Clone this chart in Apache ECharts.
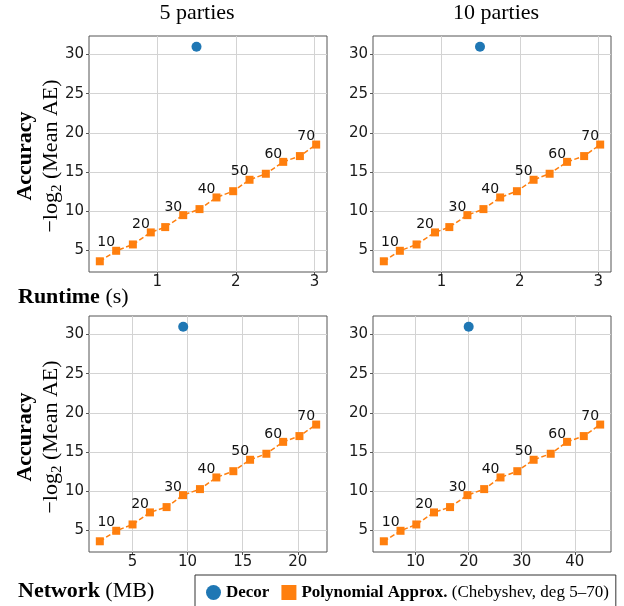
<!DOCTYPE html>
<html><head><meta charset="utf-8">
<script src="https://cdn.jsdelivr.net/npm/echarts@6/dist/echarts.min.js"></script>
<style>html,body{margin:0;padding:0;background:#fff}#c{width:624px;height:606px}</style>
</head><body><div id="c"></div>
<script>
const degrees = [5,10,15,20,25,30,35,40,45,50,55,60,65,70];
const polyAccuracy = [3.57,4.91,5.72,7.26,7.94,9.47,10.24,11.73,12.53,13.99,14.76,16.28,17.02,18.49];
const polyRuntime5 = [0.271,0.479,0.691,0.919,1.102,1.331,1.538,1.754,1.966,2.174,2.381,2.602,2.814,3.021];
const polyRuntime10 = [0.261,0.466,0.679,0.915,1.098,1.329,1.534,1.748,1.962,2.175,2.380,2.603,2.821,3.026];
const polyNetwork5 = [2.03,3.52,5.0,6.58,8.09,9.58,11.12,12.61,14.15,15.67,17.15,18.67,20.15,21.67];
const polyNetwork10 = [4.01,7.16,10.13,13.47,16.49,19.77,22.92,26.0,29.16,32.24,35.46,38.54,41.69,44.78];
const decorAccuracy = [31.0];
const decorRuntime5 = [1.50];
const decorRuntime10 = [1.49];
const decorNetwork5 = [9.6];
const decorNetwork10 = [20.0];
const yTicks = [5,10,15,20,25,30];
const runtimeTicks = [1,2,3];
const network5Ticks = [5,10,15,20];
const network10Ticks = [10,20,30,40];
const panelTitles = ['5 parties','10 parties'];
const seriesNames = ['Decor','Polynomial Approx.'];

const panels = [
  {poly: polyRuntime5, decor: decorRuntime5, ticks: runtimeTicks, left: 89, top: 36},
  {poly: polyRuntime10, decor: decorRuntime10, ticks: runtimeTicks, left: 373, top: 36},
  {poly: polyNetwork5, decor: decorNetwork5, ticks: network5Ticks, left: 89, top: 316},
  {poly: polyNetwork10, decor: decorNetwork10, ticks: network10Ticks, left: 373, top: 316}
];
function padRange(arr){
  const mn = Math.min(...arr), mx = Math.max(...arr), s = mx - mn;
  return [mn - 0.05*s, mx + 0.05*s];
}
const yr = padRange(polyAccuracy.concat(decorAccuracy));
const SERIF = '"Liberation Serif", "DejaVu Serif", serif';
const SANS = '"DejaVu Sans", sans-serif';
const BLUE = '#1f77b4', ORANGE = '#ff7f0e';

const grid = [], xAxis = [], yAxis = [], series = [];
panels.forEach((p, i) => {
  grid.push({left: p.left, top: p.top, width: 238, height: 236, show: true,
    borderColor: '#555', borderWidth: 1, backgroundColor: 'transparent', containLabel: false});
  const xr = padRange(p.poly.concat(p.decor));
  const axCommon = {
    axisLine: {show: false},
    axisTick: {show: true, length: 3, lineStyle: {color: '#555', width: 1}},
    axisLabel: {color: '#1a1a1a', fontSize: 15, fontFamily: SANS},
    splitLine: {show: true, lineStyle: {color: '#d3d3d3', width: 1}}
  };
  xAxis.push({type: 'value', gridIndex: i, min: xr[0], max: xr[1],
    axisLine: axCommon.axisLine,
    axisTick: Object.assign({}, axCommon.axisTick, {customValues: p.ticks}),
    axisLabel: Object.assign({}, axCommon.axisLabel, {customValues: p.ticks, margin: 3}),
    splitLine: axCommon.splitLine});
  yAxis.push({type: 'value', gridIndex: i, min: yr[0], max: yr[1],
    axisLine: axCommon.axisLine,
    axisTick: Object.assign({}, axCommon.axisTick, {customValues: yTicks}),
    axisLabel: Object.assign({}, axCommon.axisLabel, {customValues: yTicks, margin: 5}),
    splitLine: axCommon.splitLine});
  series.push({
    name: seriesNames[1], type: 'line', xAxisIndex: i, yAxisIndex: i,
    data: p.poly.map((x, k) => [x, polyAccuracy[k]]),
    symbol: 'rect', symbolSize: 8, showSymbol: true,
    itemStyle: {color: ORANGE, opacity: 1},
    lineStyle: {color: ORANGE, width: 1.5, type: [5, 2.5]},
    label: {show: true, position: 'left', distance: 0, offset: [3, -8],
      fontSize: 14, fontFamily: SANS, color: '#111',
      formatter: (q) => degrees[q.dataIndex] % 10 === 0 ? String(degrees[q.dataIndex]) : ''},
    z: 3
  });
  series.push({
    name: seriesNames[0], type: 'scatter', xAxisIndex: i, yAxisIndex: i,
    data: p.decor.map((x, k) => [x, decorAccuracy[k]]),
    symbol: 'circle', symbolSize: 10, itemStyle: {color: BLUE, opacity: 1}, z: 4
  });
});

const graphic = [
  {type: 'text', x: 197, y: 13, style: {text: panelTitles[0], fontSize: 22, fontFamily: SERIF, fill: '#000', align: 'center', verticalAlign: 'middle'}},
  {type: 'text', x: 496, y: 13, style: {text: panelTitles[1], fontSize: 22, fontFamily: SERIF, fill: '#000', align: 'center', verticalAlign: 'middle'}},
  {type: 'text', x: 18, y: 297, style: {text: '{b|Runtime}{r| (s)}', align: 'left', verticalAlign: 'middle',
    rich: {b: {fontSize: 22, fontFamily: SERIF, fontWeight: 'bold', fill: '#000'}, r: {fontSize: 22, fontFamily: SERIF, fill: '#000'}}}},
  {type: 'text', x: 18, y: 591, style: {text: '{b|Network}{r| (MB)}', align: 'left', verticalAlign: 'middle',
    rich: {b: {fontSize: 22, fontFamily: SERIF, fontWeight: 'bold', fill: '#000'}, r: {fontSize: 22, fontFamily: SERIF, fill: '#000'}}}}
];
[156, 437].forEach(cy => {
  graphic.push({type: 'text', x: 25, y: cy, rotation: Math.PI/2,
    style: {text: 'Accuracy', fontSize: 22, fontFamily: SERIF, fontWeight: 'bold', fill: '#000', align: 'center', verticalAlign: 'middle'}});
  graphic.push({type: 'text', x: 51, y: cy, rotation: Math.PI/2,
    style: {text: '{n|\u2212log}{s|2}{n| (Mean AE)}', align: 'center', verticalAlign: 'middle',
      rich: {n: {fontSize: 22, fontFamily: SERIF, fill: '#000', lineHeight: 28, verticalAlign: 'middle'},
             s: {fontSize: 15, fontFamily: SERIF, fill: '#000', lineHeight: 15, verticalAlign: 'bottom'}}}});
});

const chart = echarts.init(document.getElementById('c'), null, {renderer: 'canvas'});
chart.setOption({
  animation: false,
  backgroundColor: '#fff',
  grid, xAxis, yAxis, series, graphic,
  legend: {
    data: [{name: seriesNames[0], icon: 'circle'}, {name: seriesNames[1], icon: 'rect'}],
    left: 195, top: 575, orient: 'horizontal',
    itemWidth: 15, itemHeight: 15, itemGap: 12,
    padding: [9, 7, 20, 11],
    borderColor: '#333', borderWidth: 1, borderRadius: 0,
    textStyle: {fontFamily: SERIF, fontSize: 17, color: '#000',
      rich: {b: {fontFamily: SERIF, fontSize: 17, fontWeight: 'bold', color: '#000'},
             r: {fontFamily: SERIF, fontSize: 17, color: '#000'}}},
    formatter: (name) => name === 'Decor' ? '{b|Decor}' : '{b|Polynomial Approx.}{r| (Chebyshev, deg 5\u201370)}'
  }
});
</script></body></html>
